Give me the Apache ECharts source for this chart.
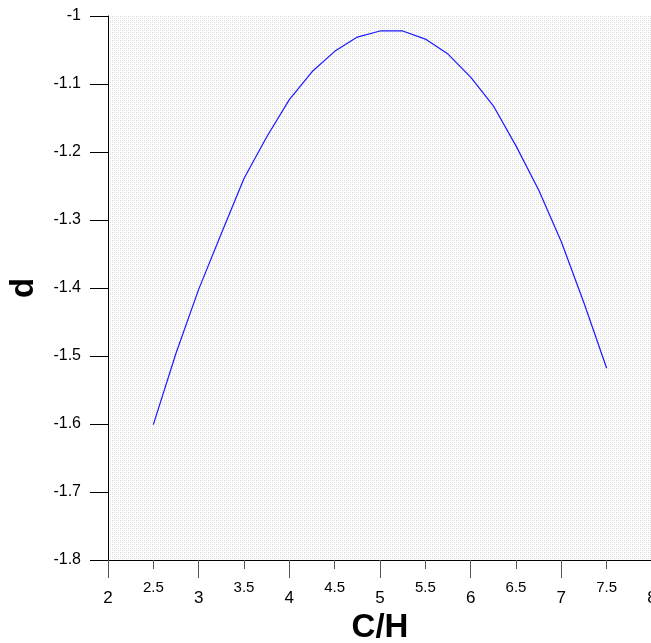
<!DOCTYPE html>
<html>
<head>
<meta charset="utf-8">
<style>
  html, body { margin: 0; padding: 0; background: #fff; }
  #chart { width: 651px; height: 643px; }
</style>
<script src="https://cdn.jsdelivr.net/npm/echarts@6/dist/echarts.min.js"></script>
</head>
<body>
<div id="chart"></div>
<script>
// C/H ratio and d values
var ratioCH = [2.5, 2.75, 3, 3.25, 3.5, 3.75, 4, 4.25, 4.5, 4.75, 5,
               5.25, 5.5, 5.75, 6, 6.25, 6.5, 6.75, 7, 7.25, 7.5];
var dValues = [-1.601, -1.496, -1.402, -1.320, -1.239, -1.178, -1.123, -1.082, -1.052, -1.031, -1.022,
               -1.022, -1.034, -1.056, -1.090, -1.132, -1.191, -1.256, -1.332, -1.422, -1.518];

var font = 'Liberation Sans, Arial, sans-serif';

// dotted grey plot background
var pat = document.createElement('canvas');
pat.width = 4; pat.height = 4;
var pc = pat.getContext('2d');
pc.fillStyle = '#ffffff';
pc.fillRect(0, 0, 4, 4);
pc.fillStyle = '#d6d6d6';
pc.fillRect(0, 0, 1, 1);
pc.fillRect(2, 2, 1, 1);
pc.fillStyle = '#e6e6e6';
pc.fillRect(2, 0, 1, 1);
pc.fillRect(0, 2, 1, 1);

var points = [];
for (var i = 0; i < ratioCH.length; i++) {
    points.push([ratioCH[i], dValues[i]]);
}

var myChart = echarts.init(document.getElementById('chart'));

var option = {
    animation: false,
    grid: {
        left: 108,
        right: -1,
        top: 16,
        bottom: 83,
        outerBoundsMode: 'none',
        containLabel: false,
        show: true,
        borderWidth: 0,
        backgroundColor: {image: pat, repeat: 'repeat'}
    },
    xAxis: [
        {
            type: 'value',
            min: 2,
            max: 8,
            interval: 1,
            name: 'C/H',
            nameLocation: 'middle',
            nameGap: 51,
            nameTextStyle: {fontFamily: font, fontSize: 33, fontWeight: 'bold', color: '#000'},
            axisLine: {show: true, onZero: false, lineStyle: {color: '#000', width: 1}},
            axisTick: {show: true, length: 18, lineStyle: {color: '#555'}},
            axisLabel: {margin: 30, fontFamily: font, fontSize: 17, color: '#000', showMaxLabel: true},
            splitLine: {show: false}
        },
        {
            type: 'value',
            min: 2,
            max: 8,
            interval: 0.5,
            position: 'bottom',
            axisLine: {show: false},
            axisTick: {show: true, length: 9, lineStyle: {color: '#555'}},
            axisLabel: {
                margin: 20,
                fontFamily: font,
                fontSize: 15,
                color: '#000',
                formatter: function (v) {
                    return v % 1 === 0 ? '' : String(v);
                }
            },
            splitLine: {show: false}
        }
    ],
    yAxis: {
        type: 'value',
        min: -1.8,
        max: -1,
        interval: 0.1,
        name: 'd',
        nameLocation: 'middle',
        nameGap: 68,
        nameRotate: 90,
        nameTextStyle: {fontFamily: font, fontSize: 33, fontWeight: 'bold', color: '#000'},
        axisLine: {show: true, onZero: false, lineStyle: {color: '#000', width: 1}},
        axisTick: {show: true, length: 18, lineStyle: {color: '#000'}},
        axisLabel: {
            margin: 27,
            fontFamily: font,
            fontSize: 16,
            color: '#000',
            formatter: function (v) {
                return String(Math.round(v * 10) / 10);
            }
        },
        splitLine: {show: false}
    },
    series: [
        {
            type: 'line',
            data: points,
            showSymbol: false,
            symbol: 'none',
            lineStyle: {color: '#1a1aff', width: 1.2},
            clip: false
        }
    ]
};

myChart.setOption(option);
</script>
</body>
</html>
